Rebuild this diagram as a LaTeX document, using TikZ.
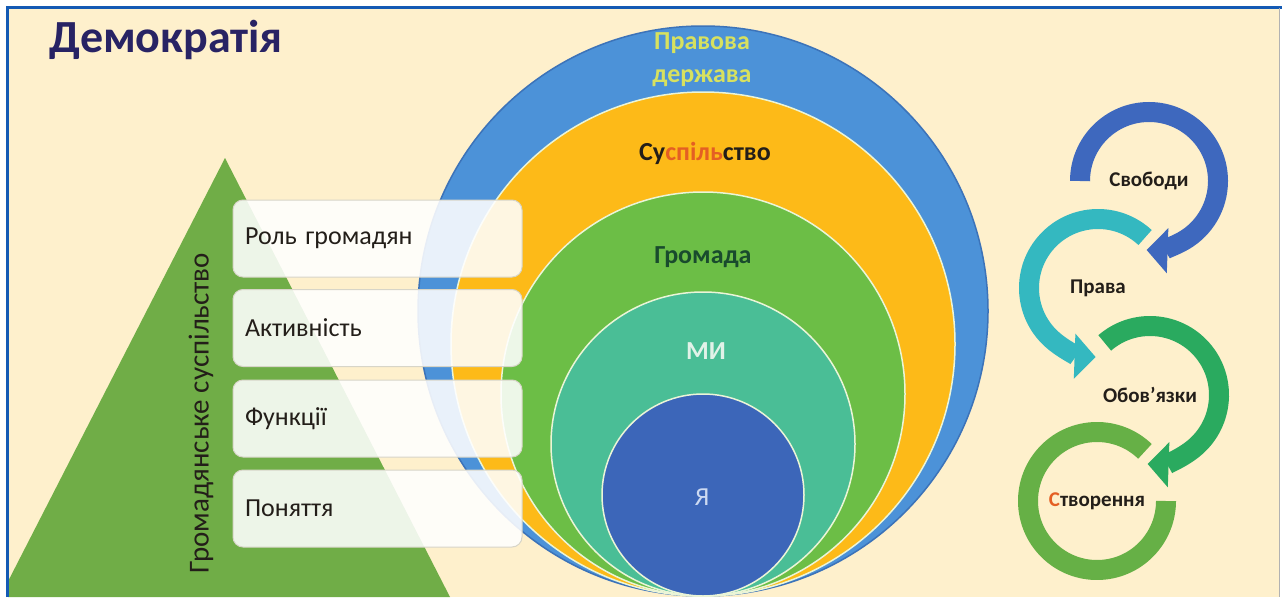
\documentclass[tikz,border=0pt]{standalone}
\usepackage{fontspec}
\setmainfont{Carlito}
\usetikzlibrary{arrows.meta}
\definecolor{bg}{RGB}{254,240,204}
\definecolor{frameblue}{RGB}{20,90,180}
\definecolor{titlecol}{RGB}{40,35,100}
\definecolor{trigreen}{RGB}{112,173,71}
\definecolor{cblue}{RGB}{76,146,216}
\definecolor{cblueedge}{RGB}{60,115,185}
\definecolor{cyellow}{RGB}{253,186,24}
\definecolor{cgreen}{RGB}{108,190,70}
\definecolor{cteal}{RGB}{74,190,150}
\definecolor{cdblue}{RGB}{60,102,185}
\definecolor{ringedge}{RGB}{235,245,215}
\definecolor{pravcol}{RGB}{215,225,95}
\definecolor{darktext}{RGB}{35,30,25}
\definecolor{orangered}{RGB}{228,95,35}
\definecolor{gromcol}{RGB}{25,75,45}
\definecolor{mycol}{RGB}{225,242,232}
\definecolor{yacol}{RGB}{205,218,242}
\definecolor{boxedge}{RGB}{215,213,200}
\definecolor{ringA}{RGB}{62,104,190}
\definecolor{ringB}{RGB}{52,184,192}
\definecolor{ringC}{RGB}{42,170,95}
\definecolor{ringD}{RGB}{102,176,70}
\begin{document}
\begin{tikzpicture}[x=1pt,y=-1pt,
  disc/.style={circle,inner sep=0pt,line width=1.5pt,draw=ringedge},
  clabel/.style={font=\bfseries\fontsize{26}{30}\selectfont},
  box/.style={rectangle,rounded corners=10pt,fill=white,fill opacity=0.88,text opacity=1,
    draw=boxedge,line width=1pt,minimum height=77pt,text width=265pt,inner xsep=12pt,align=left,
    text=darktext,font=\fontsize{26}{30}\selectfont},
  ringarc/.style={line width=20pt},
  ringtip/.style={-{Triangle[length=21pt,width=44pt]}},
  rlabel/.style={text=darktext,font=\bfseries\fontsize{21}{25}\selectfont}]
\useasboundingbox (0,0) rectangle (1282,597);
\fill[white] (0,0) rectangle (1282,597);
\fill[bg] (8,8) rectangle (1280,597);
\begin{scope}
\clip (8,8) rectangle (1280,597);
% triangle
\fill[trigreen] (0,597) -- (225,158) -- (450,597) -- cycle;
% nested circles
\node[disc,fill=cblue,draw=cblueedge,minimum size=570pt] (c1) at (703,311) {};
\node[disc,fill=cyellow,minimum size=504pt] (c2) at (703,344) {};
\node[disc,fill=cgreen,minimum size=404pt] (c3) at (703,394) {};
\node[disc,fill=cteal,minimum size=304pt] (c4) at (703,444) {};
\node[disc,fill=cdblue,minimum size=202pt] (c5) at (703,495) {};
\end{scope}
% circle labels
\node[clabel,text=pravcol,align=center,font=\bfseries\fontsize{26}{33}\selectfont] (l1) at (702,60) {Правова\\держава};
\node[clabel,text=darktext] (l2) at (705,153) {Су\textcolor{orangered}{спіль}ство};
\node[clabel,text=gromcol] (l3) at (703,257) {Громада};
\node[clabel,text=mycol] (l4) at (706,351) {МИ};
\node[clabel,text=yacol,font=\fontsize{26}{30}\selectfont] (l5) at (702,497) {Я};
% vertical label
\node[rotate=90,text=darktext,font=\fontsize{29}{32}\selectfont] (gs) at (201,413) {Громадянське суспільство};
% boxes
\node[box] (b1) at (377.5,238.5) {Роль громадян};
\node[box] (b2) at (377.5,328) {Активність};
\node[box] (b3) at (377.5,418.5) {Функції};
\node[box] (b4) at (377.5,508.5) {Поняття};
% title
\node[anchor=west,text=titlecol,font=\bfseries\fontsize{46}{50}\selectfont] (title) at (46,40) {Демократія};
% ring arrows
\coordinate (r1) at (1149,181);
\coordinate (r2) at (1098,288);
\coordinate (r3) at (1150,395);
\coordinate (r4) at (1097,501);
\draw[ringarc,ringA,ringtip] ([shift={(180:69)}]r1) arc[start angle=180,end angle=452,radius=69];
\draw[ringarc,ringB,ringtip] ([shift={(-47:69)}]r2) arc[start angle=-47,end angle=-268,radius=69];
\draw[ringarc,ringC,ringtip] ([shift={(-131:69)}]r3) arc[start angle=-131,end angle=92,radius=69];
\draw[ringarc,ringD] ([shift={(-46:69)}]r4) arc[start angle=-46,end angle=-360,radius=69];
\node[rlabel] (t1) at (r1) {Свободи};
\node[rlabel] (t2) at (r2) {Права};
\node[rlabel] (t3) at (r3) {Обов’язки};
\node[rlabel] (t4) at (r4) {\textcolor{orangered}{С}творення};
% frame
\draw[frameblue,line width=3pt] (7,597) -- (7,7) -- (1282,7);
\draw[gray!60,line width=1pt] (1279.5,8) -- (1279.5,597);
\end{tikzpicture}
\end{document}
